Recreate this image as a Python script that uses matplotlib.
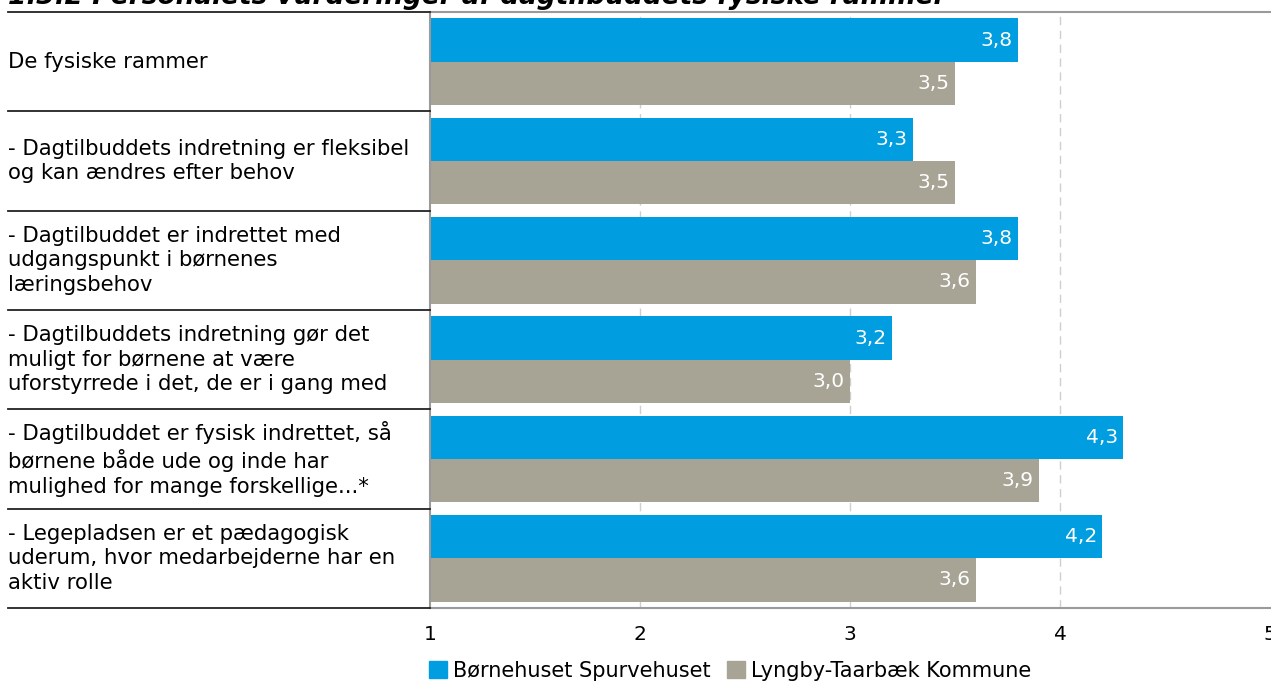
import matplotlib.pyplot as plt
import numpy as np

plt.rcParams['font.family'] = 'DejaVu Sans'

categories = [
    "De fysiske rammer",
    "- Dagtilbuddets indretning er fleksibel\nog kan ændres efter behov",
    "- Dagtilbuddet er indrettet med\nudgangspunkt i børnenes\nlæringsbehov",
    "- Dagtilbuddets indretning gør det\nmuligt for børnene at være\nuforstyrrede i det, de er i gang med",
    "- Dagtilbuddet er fysisk indrettet, så\nbørnene både ude og inde har\nmulighed for mange forskellige...*",
    "- Legepladsen er et pædagogisk\nuderum, hvor medarbejderne har en\naktiv rolle",
]
spurvehuset = [3.8, 3.3, 3.8, 3.2, 4.3, 4.2]
kommune = [3.5, 3.5, 3.6, 3.0, 3.9, 3.6]
series_names = ["Børnehuset Spurvehuset", "Lyngby-Taarbæk Kommune"]
xticks = [1, 2, 3, 4, 5]

blue = "#009ee0"
grey = "#a7a496"

W, H = 1271, 683
fig = plt.figure(figsize=(W / 100, H / 100), dpi=100)
ax = fig.add_axes([430 / W, 1 - 608 / H, 840 / W, 596 / H])

y = np.arange(len(categories))
h = 0.435
ax.barh(y - h / 2, spurvehuset, height=h, color=blue)
ax.barh(y + h / 2, kommune, height=h, color=grey)

for i in range(len(categories)):
    for v, off in ((spurvehuset[i], -h / 2), (kommune[i], h / 2)):
        ax.text(v - 0.025, i + off, f"{v:.1f}".replace(".", ","), color="white",
                ha="right", va="center", fontsize=14.5)

ax.set_xlim(1, 5)
ax.set_ylim(len(categories) - 0.5, -0.5)
ax.set_xticks(xticks)
ax.set_xticklabels([str(t) for t in xticks], fontsize=14.5)
ax.tick_params(axis="x", length=0, pad=12)
ax.set_yticks([])
for x in xticks[1:4]:
    ax.axvline(x, color="#cfcfcf", lw=1, ls=(0, (6, 4)), zorder=0)
for s in ["top", "bottom", "left"]:
    ax.spines[s].set_color("#9a9a9a")
    ax.spines[s].set_linewidth(1.5)
ax.spines["right"].set_visible(False)

# left labels with separators
trans = fig.transFigure
for i, lab in enumerate(categories):
    yc = 1 - (12 + 99.33 * (i + 0.5)) / H
    fig.text(8 / W, yc, lab, ha="left", va="center", fontsize=15.3, linespacing=1.3)
for i in range(len(categories) + 1):
    yl = 1 - (12 + 99.33 * i) / H
    fig.add_artist(plt.Line2D([8 / W, 430 / W], [yl, yl], color="#222222", lw=1.3,
                              transform=trans))

fig.text(8 / W, 1 - 4 / H, "1.3.2 Personalets vurderinger af dagtilbuddets fysiske rammer",
         ha="left", va="baseline", fontsize=19, fontweight="bold", fontstyle="italic")

handles = [plt.Rectangle((0, 0), 1, 1, color=blue), plt.Rectangle((0, 0), 1, 1, color=grey)]
fig.legend(handles, series_names, loc="center left", bbox_to_anchor=(429 / W, 1 - 671 / H),
           ncol=2, frameon=False, fontsize=15, handlelength=0.85, handleheight=0.85,
           handletextpad=0.3, columnspacing=0.8, borderaxespad=0, borderpad=0)

fig.savefig("out.png", dpi=100)
